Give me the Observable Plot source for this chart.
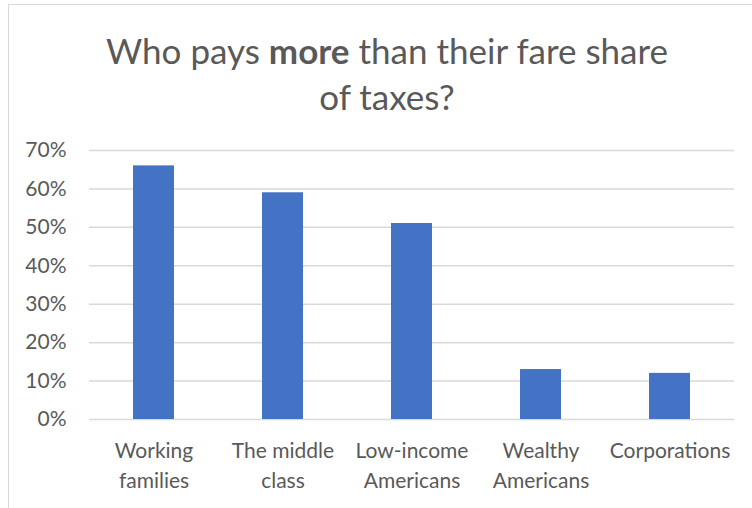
<!DOCTYPE html>
<html><head><meta charset="utf-8">
<script src="https://cdn.jsdelivr.net/npm/d3@7"></script>
<script src="https://cdn.jsdelivr.net/npm/@observablehq/plot@0.6"></script>
<style>
body{margin:0;width:752px;height:508px;overflow:hidden;background:#fff;font-family:Lato,sans-serif;position:relative}
#frame{position:absolute;left:8px;top:4px;width:800px;height:600px;border:1.5px solid #d9d9d9;}
#title{position:absolute;left:0;top:27px;width:774px;text-align:center;font-size:35px;line-height:46px;color:#595959;}
#chart{position:absolute;left:0;top:130px;}
</style></head><body>
<div id="frame"></div>
<div id="title">Who pays <b>more</b> than their fare share<br>of taxes?</div>
<div id="chart"></div>
<script>
const categories = ["Working families","The middle class","Low-income Americans","Wealthy Americans","Corporations"];
const tickLabels = ["Working\nfamilies","The middle\nclass","Low-income\nAmericans","Wealthy\nAmericans","Corporations"];
const values = [0.66,0.59,0.51,0.13,0.12];
const yTicks = [0,0.1,0.2,0.3,0.4,0.5,0.6,0.7];
const data = categories.map((c,i)=>({category:c, value:values[i]}));
const chart = Plot.plot({
  width:752, height:378, marginLeft:89, marginRight:18, marginTop:20, marginBottom:89,
  style:{fontFamily:"Lato, sans-serif", fontSize:"21px", color:"#595959", background:"transparent"},
  x:{domain:categories, paddingInner:0.68, paddingOuter:0.34, label:null},
  y:{domain:[0,0.7], label:null},
  marks:[
    Plot.gridY(yTicks,{stroke:"#d9d9d9", strokeOpacity:1, strokeWidth:1.5}),
    Plot.barY(data,{x:"category", y:"value", fill:"#4472C4"}),
    Plot.axisY(yTicks,{tickSize:0, tickPadding:23, tickFormat:d=>Math.round(d*100)+"%", fontSize:21, label:null}),
    Plot.axisX({tickSize:0, tickPadding:18, tickFormat:d=>tickLabels[categories.indexOf(d)], lineHeight:1.4, fontSize:21, label:null})
  ]
});
document.getElementById("chart").appendChild(chart);
</script>
</body></html>
